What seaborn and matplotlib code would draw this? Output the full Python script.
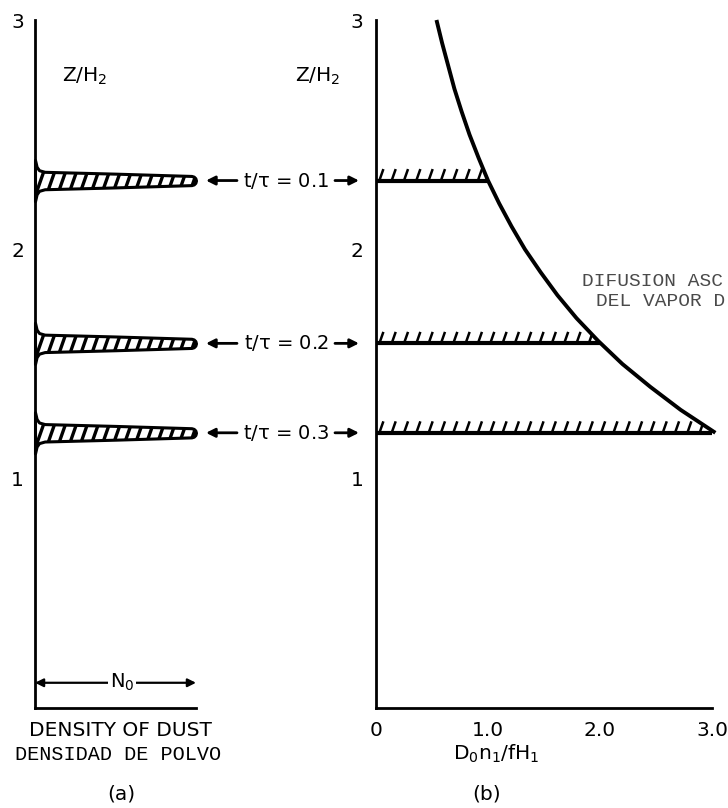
import numpy as np
import matplotlib
matplotlib.use("Agg")
import matplotlib.pyplot as plt
import seaborn as sns
from matplotlib.collections import LineCollection
from matplotlib.patches import Polygon, FancyArrowPatch
from matplotlib.transforms import blended_transform_factory

# ---- data -------------------------------------------------------------
# dust layers (panel a) at successive times t/tau, height in Z/H2
layer_times = ["0.1", "0.2", "0.3"]
layer_heights = [2.30, 1.59, 1.20]

# profile of one dust spike: relative density (N/N0) vs half-thickness in Z/H2
spike_density = [0.0, 0.01, 0.025, 0.06, 0.50, 0.972, 0.986, 0.996, 1.0]
spike_halfwidth = [0.09, 0.06, 0.045, 0.038, 0.030, 0.020, 0.017, 0.010, 0.0]

# upward diffusion of vapour (panel b): Z/H2 vs D0 n1 / f H1
curve_z = [3.0, 2.9, 2.8, 2.7, 2.6, 2.5, 2.4, 2.3, 2.2, 2.1, 2.0,
           1.9, 1.8, 1.7, 1.6, 1.5, 1.4, 1.3, 1.2]
curve_d = [0.54, 0.59, 0.645, 0.70, 0.765, 0.835, 0.915, 1.00, 1.10, 1.21,
           1.33, 1.47, 1.62, 1.79, 1.985, 2.20, 2.45, 2.72, 3.03]

# hatched levels of panel b (reach of each level along the x axis)
level_extent = [1.0, 2.0, 3.0]

yticks = [1, 2, 3]
ytick_labels = ["1", "2", "3"]
xticks_b = [0, 1, 2, 3]
xtick_labels_b = ["0", "1.0", "2.0", "3.0"]

# ---- style ------------------------------------------------------------
sns.set_theme(style="white")
plt.rcParams["font.family"] = ["DejaVu Sans"]
plt.rcParams["mathtext.fontset"] = "dejavusans"
plt.rcParams["text.color"] = "black"
MONO = ["Liberation Mono", "DejaVu Sans Mono"]

W, H = 728, 808
fig = plt.figure(figsize=(W / 100, H / 100), dpi=100)
fig.patch.set_facecolor("white")


def fx(px):
    return px / W


def fy(py):
    return 1 - py / H


axA = fig.add_axes([fx(35), fy(708), fx(196) - fx(35), fy(20) - fy(708)])
axB = fig.add_axes([fx(376), fy(708), fx(712) - fx(376), fy(20) - fy(708)])

for ax in (axA, axB):
    ax.set_ylim(0, 3)
    ax.set_facecolor("white")
    ax.grid(False)
    for s in ("top", "right"):
        ax.spines[s].set_visible(False)
    for s in ("left", "bottom"):
        ax.spines[s].set_color("black")
        ax.spines[s].set_linewidth(2.0)
    ax.set_yticks(yticks)
    ax.set_yticklabels(ytick_labels)
    ax.set_xlabel("")
    ax.set_ylabel("")

axA.tick_params(axis="y", direction="in", length=9, width=1.8, pad=8,
                labelsize=14.5, colors="black")
axB.tick_params(axis="y", direction="in", length=9, width=1.8, pad=9,
                labelsize=14.5, colors="black")

axA.set_xlim(0, 1)
axA.set_xticks([1])
axA.set_xticklabels([""])
axA.tick_params(axis="x", direction="in", length=28, width=1.8, colors="black")

axB.set_xlim(0, 3)
axB.set_xticks(xticks_b)
axB.set_xticklabels(xtick_labels_b)
axB.tick_params(axis="x", direction="in", length=9, width=1.8, pad=9,
                labelsize=14.5, colors="black")

# ---- panel a: hatched dust spikes ------------------------------------
dens = np.array(spike_density)
hw = np.array(spike_halfwidth)
for z0 in layer_heights:
    body = axA.fill_between(dens, z0 - hw, z0 + hw, facecolor="white",
                            edgecolor="black", linewidth=2.2, zorder=3,
                            clip_on=False)
    xs = np.arange(0.035, 1.0, 0.068)
    segs = [[(x - 0.05, z0 - 0.1), (x + 0.05, z0 + 0.1)] for x in xs]
    strokes = LineCollection(segs, colors="black", linewidths=2.4, zorder=4,
                             transform=axA.transData)
    axA.add_collection(strokes)
    strokes.set_clip_path(body.get_paths()[0], axA.transData)

# N0 scale bar
axA.annotate("", xy=(0.0, 0.11), xytext=(1.0, 0.11),
             arrowprops=dict(arrowstyle="<|-|>", color="black", lw=1.6,
                             mutation_scale=12, shrinkA=0, shrinkB=0))
axA.text(0.54, 0.11, r"N$_\mathregular{0}$", ha="center", va="center",
         fontsize=14, color="black",
         bbox=dict(facecolor="white", edgecolor="none", pad=1.5))

# ---- panel b: diffusion curve and hatched levels ---------------------
sns.lineplot(x=curve_d, y=curve_z, sort=False, estimator=None,
             color="black", linewidth=2.8, ax=axB, zorder=5)
for ln in axB.lines:
    ln.set_clip_on(False)
    ln.set_solid_capstyle("butt")
    ln.set_solid_joinstyle("round")

axB.hlines(layer_heights, 0, level_extent, color="black", linewidth=3.0,
           zorder=4)

region = Polygon([(0, curve_z[-1])] + list(zip(curve_d[::-1], curve_z[::-1]))
                 + [(0, curve_z[0])], closed=True, transform=axB.transData)
for z0, ext in zip(layer_heights, level_extent):
    xs = np.arange(0.03, ext, 0.11)
    segs = [[(x, z0), (x + 0.036, z0 + 0.05)] for x in xs]
    hatch = LineCollection(segs, colors="black", linewidths=1.8, zorder=4,
                           transform=axB.transData)
    axB.add_collection(hatch)
    hatch.set_clip_path(region)

# ---- labels -----------------------------------------------------------
zlab = r"Z/H$_\mathregular{2}$"
fig.text(fx(85), fy(76), zlab, ha="center", va="center", fontsize=14.5)
fig.text(fx(318), fy(76), zlab, ha="center", va="center", fontsize=14.5)

mix = blended_transform_factory(fig.transFigure, axA.transData)
for t, z0 in zip(layer_times, layer_heights):
    fig.text(fx(286), z0, r"t/$\mathregular{\tau}$ = " + t, transform=mix,
             ha="center", va="center", fontsize=14)
    for a, b in ((fx(237), fx(206)), (fx(335), fx(359))):
        fig.add_artist(FancyArrowPatch(
            (a, z0), (b, z0), transform=mix, arrowstyle="-|>",
            mutation_scale=13, color="black", lw=2.0,
            shrinkA=0, shrinkB=0))

# caption at the right edge of panel b
fig.text(fx(582), fy(281), "DIFUSION ASC", ha="left", va="center",
         fontsize=14, family=MONO, color="#4a4a4a")
fig.text(fx(596), fy(302), "DEL VAPOR D", ha="left", va="center",
         fontsize=14, family=MONO, color="#4a4a4a")

fig.text(fx(120), fy(730), "DENSITY OF DUST", ha="center", va="center",
         fontsize=14.5)
fig.text(fx(118), fy(754), "DENSIDAD DE POLVO", ha="center", va="center",
         fontsize=14.5, family=MONO, color="black")
fig.text(fx(121), fy(794), "(a)", ha="center", va="center", fontsize=14.5)

fig.text(fx(496), fy(754),
         r"D$_\mathregular{0}$n$_\mathregular{1}$/fH$_\mathregular{1}$",
         ha="center", va="center", fontsize=14.5)
fig.text(fx(487), fy(794), "(b)", ha="center", va="center", fontsize=14.5)

fig.savefig("out.png", dpi=100, facecolor="white")
